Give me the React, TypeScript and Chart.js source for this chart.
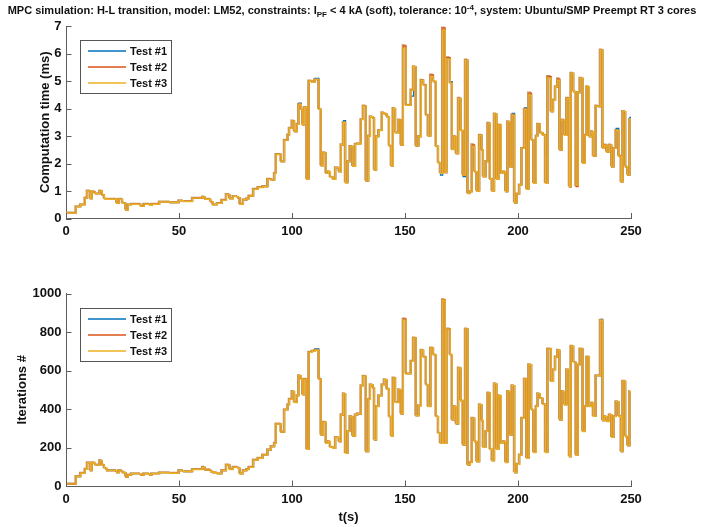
import React, { useEffect, useRef } from 'react';
import { Chart, registerables } from 'chart.js';

Chart.register(...registerables);

// ---------- data ----------
// Breakpoint times of the stair plots (s)
const TIME_S = [
  0, 4.5, 6.5, 8.5, 9.5, 10.8, 11.5, 13, 15, 16,
  17, 18, 22.5, 23.5, 25, 26.5, 27.5, 29, 33, 34.5,
  37, 38, 41.4, 46, 50, 52, 56, 60.5, 61.5, 64,
  65, 67, 69, 71, 72.5, 74, 76, 77, 78.5, 80,
  81, 83, 85, 87.1, 89.3, 90.8, 92.3, 93.0, 95.2, 96.7,
  98.2, 98.9, 100.1, 101.1, 102.3, 103.0, 104.1, 104.8, 105.5, 106.6,
  107.5, 108.9, 110.1, 111.9, 112.9, 113.9, 115.1, 116.2, 117.0, 118.2,
  119.3, 120.9, 121.8, 122.8, 123.7, 124.7, 125.7, 126.9, 128.1, 129.1,
  130.6, 131.6, 132.8, 133.9, 134.7, 135.8, 136.5, 137.4, 138.4, 139.9,
  140.9, 142.0, 143.1, 144.0, 144.8, 145.8, 147.3, 148.3, 149.3, 150.5,
  152.7, 153.8, 154.9, 156.1, 157.2, 158.2, 159.4, 160.3, 161.4, 162.6,
  163.8, 164.8, 165.7, 166.7, 167.8, 168.5, 170.0, 170.9, 171.9, 172.7,
  173.7, 174.7, 175.7, 176.8, 177.8, 178.8, 179.7, 180.8, 181.8, 183.0,
  184.0, 184.7, 185.8, 186.7, 187.7, 188.6, 189.6, 190.6, 191.5, 192.6,
  193.6, 194.6, 195.5, 196.5, 197.4, 198.5, 199.5, 200.7, 201.7, 202.9,
  203.9, 204.8, 206.0, 207.0, 208.1, 208.8, 209.8, 211.0, 212.2, 213.2,
  214.7, 215.7, 216.6, 217.6, 218.5, 219.5, 220.6, 221.6, 222.8, 223.5,
  224.6, 225.7, 226.6, 227.5, 228.7, 229.7, 230.5, 231.6, 232.7, 233.4,
  234.5, 235.6, 236.5, 237.5, 238.3, 239.3, 240.5, 241.5, 242.4, 243.4,
  244.6, 245.7, 246.4, 247.6, 248.6, 249.5, 250,
];

// Computation time, Test #3 (ms)
const MS_TEST3 = [
  0.2, 0.43, 0.5, 0.75, 1.0, 0.72, 0.97, 0.9, 1.0, 0.85,
  0.72, 0.7, 0.55, 0.7, 0.55, 0.31, 0.5, 0.52, 0.45, 0.52,
  0.48, 0.52, 0.6, 0.58, 0.65, 0.62, 0.74, 0.78, 0.7, 0.6,
  0.5, 0.55, 0.66, 0.87, 0.72, 0.8, 0.75, 0.52, 0.68, 0.72,
  0.82, 1.06, 1.13, 1.16, 1.43, 1.40, 1.64, 2.33, 2.07, 2.85,
  3.04, 3.28, 3.55, 3.16, 3.43, 4.15, 3.97, 3.4, 4.04, 1.43,
  5.0, 4.95, 5.05, 3.97, 1.92, 2.39, 1.64, 1.70, 1.5, 1.43,
  1.85, 1.70, 2.68, 3.49, 1.3, 2.07, 2.62, 1.9, 2.7, 2.72,
  3.6, 4.09, 1.37, 3.0, 3.7, 3.65, 1.76, 2.98, 3.2, 3.85,
  3.8, 3.7, 2.64, 1.91, 4.0, 3.12, 3.58, 2.67, 6.19, 4.12,
  4.67, 5.52, 2.64, 2.98, 5.03, 4.85, 3.76, 3.0, 5.16, 4.98,
  2.62, 2.03, 1.64, 6.85, 1.67, 5.79, 4.92, 2.51, 2.98, 2.36,
  4.37, 3.2, 1.58, 5.76, 0.91, 0.98, 2.62, 1.7, 1.0, 3.03,
  2.49, 1.52, 2.07, 3.46, 1.43, 1.0, 3.8, 1.43, 3.4, 1.64,
  1.7, 0.98, 3.52, 1.88, 3.76, 0.57, 0.89, 1.22, 2.55, 3.97,
  1.06, 4.49, 2.85, 1.28, 3.0, 3.43, 3.12, 3.03, 1.28, 5.1,
  3.89, 4.31, 4.79, 5.03, 2.49, 3.58, 3.03, 4.37, 1.15, 5.28,
  4.61, 1.22, 4.58, 5.1, 2.01, 3.03, 4.79, 2.98, 3.16, 2.27,
  4.09, 4.07, 6.13, 2.55, 2.67, 2.42, 2.67, 1.88, 2.55, 3.2,
  2.27, 1.33, 3.89, 1.88, 1.58, 3.6, 3.6,
];

// Iterations, Test #3
const ITER_TEST3 = [
  10, 49, 66, 87, 121, 80, 121, 109, 132, 109,
  92, 80, 70, 80, 69, 46, 57, 64, 57, 64,
  57, 64, 69, 66, 80, 75, 86, 97, 84, 75,
  69, 64, 80, 109, 86, 97, 92, 64, 80, 86,
  97, 135, 144, 161, 188, 205, 222, 322, 280, 396,
  422, 451, 491, 434, 469, 573, 556, 474, 555, 191,
  695, 700, 705, 556, 266, 331, 222, 231, 201, 196,
  252, 231, 370, 479, 170, 283, 361, 260, 370, 375,
  521, 570, 179, 450, 526, 509, 240, 413, 469, 526,
  552, 504, 360, 260, 561, 434, 500, 375, 861, 583,
  648, 769, 365, 417, 705, 670, 526, 413, 717, 682,
  361, 274, 222, 965, 222, 816, 682, 344, 413, 323,
  613, 444, 214, 816, 109, 122, 352, 231, 127, 422,
  340, 201, 283, 483, 191, 132, 531, 191, 469, 222,
  231, 122, 491, 266, 521, 70, 113, 161, 352, 556,
  144, 630, 396, 174, 413, 479, 455, 424, 174, 712,
  544, 604, 670, 705, 344, 491, 422, 604, 153, 726,
  642, 161, 630, 712, 283, 413, 670, 413, 431, 362,
  573, 573, 861, 340, 361, 335, 370, 253, 361, 438,
  362, 179, 544, 257, 209, 491, 491,
];

// Places where Test #1 / Test #2 visibly differ from Test #3: [time (s), value]
const MS_TEST1_DIFF: [number, number][] = [
  [103.0, 4.2], [110.1, 5.1], [122.8, 3.56], [152.7, 4.45], [165.7, 1.58],
  [170.0, 4.98], [175.7, 1.52], [197.4, 3.82], [202.9, 4.02], [219.5, 3.5],
  [232.7, 3.1], [240.5, 2.6], [243.4, 3.28], [249.5, 3.68], [250, 3.68],
];
const MS_TEST2_DIFF: [number, number][] = [
  [149.3, 6.28], [161.4, 5.22], [166.7, 6.93], [168.5, 5.85], [179.7, 2.68],
  [204.8, 4.56], [213.2, 5.16], [217.6, 5.08], [225.7, 1.16],
];
const ITER_TEST1_DIFF: [number, number][] = [[110.1, 712], [236.5, 866]];
const ITER_TEST2_DIFF: [number, number][] = [[149.3, 868], [166.7, 968]];

const SERIES_LABELS = ['Test #1', 'Test #2', 'Test #3'];
const SERIES_COLORS = ['#0072BD', '#D95319', '#EDB120'];
const X_TICKS = [0, 50, 100, 150, 200, 250];
const MS_TICKS = [0, 1, 2, 3, 4, 5, 6, 7];
const ITER_TICKS = [0, 200, 400, 600, 800, 1000];

// ---------- helpers ----------
const FONT = '"Liberation Sans", Arial, Helvetica, sans-serif';
const AXIS_COLOR = '#5e5e5e';
const TEXT_COLOR = '#111';

function buildSeries(base: number[], diff: [number, number][]) {
  const m = new Map<number, number>(diff);
  return TIME_S.map((t, i) => ({ x: t, y: m.has(t) ? (m.get(t) as number) : base[i] }));
}

const insideTicks = {
  id: 'insideTicks',
  afterDraw(chart: any) {
    const { ctx, chartArea, scales } = chart;
    ctx.save();
    ctx.strokeStyle = AXIS_COLOR;
    ctx.lineWidth = 1;
    ctx.beginPath();
    scales.x.ticks.forEach((t: any) => {
      const px = Math.round(scales.x.getPixelForValue(t.value)) + 0.5;
      ctx.moveTo(px, chartArea.bottom);
      ctx.lineTo(px, chartArea.bottom - 5.5);
    });
    scales.y.ticks.forEach((t: any) => {
      const py = Math.round(scales.y.getPixelForValue(t.value)) + 0.5;
      ctx.moveTo(chartArea.left, py);
      ctx.lineTo(chartArea.left + 5.5, py);
    });
    ctx.stroke();
    ctx.restore();
  },
};

const legendBox = {
  id: 'legendBox',
  afterDraw(chart: any) {
    const { ctx, chartArea } = chart;
    const bx = Math.round(chartArea.left + 13.5) + 0.5;
    const by = Math.round(chartArea.top + 14) + 0.5;
    const bw = 91;
    const bh = 53;
    ctx.save();
    ctx.fillStyle = '#fff';
    ctx.fillRect(bx, by, bw, bh);
    ctx.strokeStyle = '#555';
    ctx.lineWidth = 1;
    ctx.strokeRect(bx, by, bw, bh);
    ctx.font = `bold 11px ${FONT}`;
    ctx.textBaseline = 'middle';
    ctx.textAlign = 'left';
    SERIES_LABELS.forEach((label, i) => {
      const y = by + 10.5 + 16 * i;
      ctx.strokeStyle = SERIES_COLORS[i];
      ctx.lineWidth = 1.3;
      ctx.beginPath();
      ctx.moveTo(bx + 7.5, y);
      ctx.lineTo(bx + 45.5, y);
      ctx.stroke();
      ctx.fillStyle = TEXT_COLOR;
      ctx.fillText(label, bx + 49.5, y + 0.5);
    });
    ctx.restore();
  },
};

const shade = {
  id: 'shade',
  beforeDatasetDraw(chart: any, args: any) {
    const ds = chart.data.datasets[args.index];
    if (ds.shade) {
      const ctx = chart.ctx;
      ctx.save();
      ctx.shadowColor = ds.shade;
      ctx.shadowOffsetX = -1.2;
      ctx.shadowOffsetY = -0.9;
      ctx.shadowBlur = 0;
    }
  },
  afterDatasetDraw(chart: any, args: any) {
    const ds = chart.data.datasets[args.index];
    if (ds.shade) chart.ctx.restore();
  },
};

function makeChart(
  canvas: HTMLCanvasElement,
  series: { x: number; y: number }[][],
  yTicks: number[],
  yTitle: string,
  yTitlePad: number,
  xTitle: string | null,
  padTop: number,
  xAxisHeight: number,
) {
  const yMax = yTicks[yTicks.length - 1];
  return new Chart(canvas, {
    type: 'line',
    data: {
      datasets: series.map((data, i) => ({
        label: SERIES_LABELS[i],
        data,
        borderColor: SERIES_COLORS[i],
        borderWidth: i === 2 ? 1.4 : 1.2,
        stepped: true,
        pointRadius: 0,
        fill: false,
        order: 2 - i,
        shade: i === 1 ? 'rgba(192,138,74,0.9)' : undefined,
      })) as any,
    },
    options: {
      responsive: false,
      maintainAspectRatio: false,
      animation: false,
      events: [],
      layout: { padding: { left: 0, right: 73, top: padTop, bottom: 0 } },
      plugins: { legend: { display: false }, tooltip: { enabled: false }, title: { display: false } },
      scales: {
        x: {
          type: 'linear',
          min: 0,
          max: 250,
          afterBuildTicks: (s: any) => { s.ticks = X_TICKS.map((v) => ({ value: v })); },
          afterFit: (s: any) => { s.height = xAxisHeight; },
          grid: { display: false, drawTicks: false },
          border: { display: true, color: AXIS_COLOR, width: 1 },
          ticks: {
            padding: 5.5,
            color: TEXT_COLOR,
            font: { family: FONT, size: 13, weight: 'bold' },
            callback: (v: any) => String(v),
            maxRotation: 0,
          },
          title: xTitle
            ? { display: true, text: xTitle, color: TEXT_COLOR, font: { family: FONT, size: 13, weight: 'bold' }, padding: { top: 0, bottom: 1.5 } }
            : { display: false },
        },
        y: {
          type: 'linear',
          min: 0,
          max: yMax,
          afterBuildTicks: (s: any) => { s.ticks = yTicks.map((v) => ({ value: v })); },
          afterFit: (s: any) => { s.width = 66; },
          grid: { display: false, drawTicks: false },
          border: { display: true, color: AXIS_COLOR, width: 1 },
          ticks: {
            padding: 4.5,
            color: TEXT_COLOR,
            font: { family: FONT, size: 13, weight: 'bold' },
            callback: (v: any) => String(v),
          },
          title: { display: true, text: yTitle, color: TEXT_COLOR, font: { family: FONT, size: 13, weight: 'bold' }, padding: { top: yTitlePad, bottom: 0 } },
        },
      },
    } as any,
    plugins: [shade, insideTicks, legendBox],
  });
}

export default function App() {
  const topRef = useRef<HTMLCanvasElement>(null);
  const botRef = useRef<HTMLCanvasElement>(null);

  useEffect(() => {
    const msSeries = [
      buildSeries(MS_TEST3, MS_TEST1_DIFF),
      buildSeries(MS_TEST3, MS_TEST2_DIFF),
      buildSeries(MS_TEST3, []),
    ];
    const itSeries = [
      buildSeries(ITER_TEST3, ITER_TEST1_DIFF),
      buildSeries(ITER_TEST3, ITER_TEST2_DIFF),
      buildSeries(ITER_TEST3, []),
    ];
    const c1 = makeChart(topRef.current!, msSeries, MS_TICKS, 'Computation time (ms)', 37.5, null, 26, 41.5);
    const c2 = makeChart(botRef.current!, itSeries, ITER_TICKS, 'Iterations #', 14.5, 't(s)', 33.5, 41);
    return () => { c1.destroy(); c2.destroy(); };
  }, []);

  return (
    <div style={{ position: 'fixed', left: 0, top: 0, width: 704, height: 527, background: '#fff', overflow: 'hidden' }}>
      <canvas ref={topRef} width={704} height={260} style={{ position: 'absolute', left: 0, top: 0, width: 704, height: 260 }} />
      <canvas ref={botRef} width={704} height={267} style={{ position: 'absolute', left: 0, top: 260, width: 704, height: 267 }} />
      <div
        style={{
          position: 'absolute', left: 0, top: 4, width: 704, textAlign: 'center',
          font: `bold 11px ${FONT}`, color: TEXT_COLOR, whiteSpace: 'nowrap', lineHeight: '13px',
        }}
      >
        MPC simulation: H-L transition, model: LM52, constraints: I
        <span style={{ fontSize: 8, position: 'relative', top: 3 }}>PF</span>
        {' < 4 kA (soft), tolerance: 10'}
        <span style={{ fontSize: 8, position: 'relative', top: -4 }}>-4</span>
        , system: Ubuntu/SMP Preempt RT 3 cores
      </div>
    </div>
  );
}
